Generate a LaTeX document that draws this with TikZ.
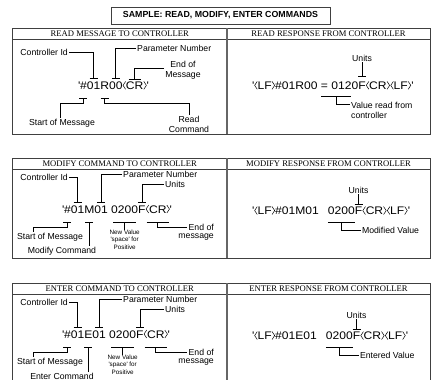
\documentclass[tikz,border=0pt]{standalone}
\usepackage{fontspec}
\usetikzlibrary{calc}
\setmainfont{Liberation Sans}
\newfontfamily\serifhd{Liberation Serif}
\newfontfamily\codefont[FakeStretch=1.1]{Liberation Sans}
\newcommand\lb{\hspace{0.3pt}\tikz[baseline=0pt]\draw[line width=0.5pt] (3.0pt,0pt)--(0.4pt,3.95pt)--(3.0pt,7.9pt);\hspace{0.1pt}}
\newcommand\rb{\hspace{0.1pt}\tikz[baseline=0pt]\draw[line width=0.5pt] (0.4pt,0pt)--(3.0pt,3.95pt)--(0.4pt,7.9pt);\hspace{0.3pt}}
\newcommand\sq{\textquotesingle}
\tikzset{
  frame/.style={draw=black!75, line width=0.9pt},
  divider/.style={draw=black!60, line width=1.4pt},
  head/.style={font=\serifhd\fontsize{8.6}{10}\selectfont, inner sep=0pt},
  lbl/.style={font=\fontsize{8.7}{10}\selectfont, inner sep=1pt},
  smalllbl/.style={font=\fontsize{6.3}{7.2}\selectfont, align=center, inner sep=0pt},
  seg/.style={font=\codefont\fontsize{11}{13}\selectfont, inner sep=0pt, outer sep=0pt, anchor=base west},
  conn/.style={draw, line width=0.6pt},
}
% #1 top, #2 prefix, #3 letter, #4 left head, #5 right head, #6 command label, #7 value label
\newcommand\cmdbox[7]{%
\begin{scope}[shift={(0,#1)}]
  \draw[frame] (12.7,0) rectangle (430,100);
  \draw[frame] (12.7,11) -- (430,11);
  \draw[divider] (227,0) -- (227,100);
  \node[head] (#2hl) at (119.8,5.5) {#4};
  \node[head] (#2hr) at (328.5,5.5) {#5};
  % left code
  \node[seg] (#2a0) at (62,55) {\sq};
  \node[seg] (#2a1) at (#2a0.base east) {\#};
  \node[seg] (#2a2) at (#2a1.base east) {01};
  \node[seg] (#2a3) at (#2a2.base east) {#3};
  \node[seg] (#2a4) at (#2a3.base east) {01};
  \node[seg] (#2a5) at ([xshift=3.4pt]#2a4.base east) {0200};
  \node[seg] (#2a6) at (#2a5.base east) {F};
  \node[seg] (#2a7) at (#2a6.base east) {\lb CR\rb};
  \node[seg] (#2a8) at (#2a7.base east) {\sq};
  % controller id
  \node[lbl, anchor=east] (#2lid) at (69,19.5) {Controller Id};
  \coordinate (#2tid) at (#2a2.north |- 0,44);
  \draw[conn] (#2lid.east) -- (#2tid |- #2lid.east) -- (#2tid);
  \draw[conn] ([xshift=-4pt]#2tid) -- ([xshift=4pt]#2tid);
  % parameter number
  \node[lbl, anchor=west] (#2lpn) at (122,16) {Parameter Number};
  \coordinate (#2tpn) at (#2a4.north |- 0,44);
  \draw[conn] (#2lpn.west) -- (#2tpn |- #2lpn.west) -- (#2tpn);
  \draw[conn] ([xshift=-4pt]#2tpn) -- ([xshift=4pt]#2tpn);
  % units
  \node[lbl, anchor=west] (#2lu) at (164,26) {Units};
  \coordinate (#2tu) at (#2a6.north |- 0,44);
  \draw[conn] (#2lu.west) -- (#2tu |- #2lu.west) -- (#2tu);
  \draw[conn] ([xshift=-4pt]#2tu) -- ([xshift=4pt]#2tu);
  % start of message
  \node[lbl] (#2lsm) at (50,79) {Start of Message};
  \coordinate (#2bsm) at (#2a1.south |- 0,64);
  \draw[conn] ([xshift=-4pt]#2bsm) -- ([xshift=4pt]#2bsm);
  \draw[conn] (#2bsm) -- (#2bsm |- 0,69) -- (33,69) -- (33,0 |- #2lsm.north);
  % command
  \node[lbl] (#2lc) at (62,93) {#6 Command};
  \coordinate (#2bc) at (#2a3.south |- 0,64);
  \draw[conn] ([xshift=-4pt]#2bc) -- ([xshift=4pt]#2bc);
  \draw[conn] (#2bc) -- (#2bc |- #2lc.north);
  % new value
  \coordinate (#2bnv) at (#2a5.south |- 0,64);
  \node[smalllbl, anchor=north] (#2lnv) at (#2a5.south |- 0,72) {New Value\\\sq space\sq{} for\\Positive};
  \draw[conn] ([xshift=2pt]#2a5.south west |- #2bnv) -- ([xshift=-2pt]#2a5.south east |- #2bnv);
  \draw[conn] (#2bnv) -- (#2lnv.north);
  % end of message
  \node[lbl, anchor=east] (#2leo) at (215,69) {End of};
  \node[lbl, anchor=east] (#2lmsg) at (215,79) {message};
  \coordinate (#2beo) at (#2a7.south |- 0,64);
  \draw[conn] ([xshift=1pt]#2a7.south west |- #2beo) -- ([xshift=-1pt]#2a7.south east |- #2beo);
  \draw[conn] (#2beo) -- (#2beo |- 0,69) -- (#2leo.west);
  % right code
  \node[seg] (#2b0) at (252,56.5) {\sq\lb LF\rb\#01#301};
  \node[seg] (#2b1) at ([xshift=9pt]#2b0.base east) {0200};
  \node[seg] (#2b2) at (#2b1.base east) {F};
  \node[seg] (#2b3) at (#2b2.base east) {\lb CR\rb\lb LF\rb\sq};
  \node[lbl] (#2lru) at (#2b2.north |- 0,32) {Units};
  \coordinate (#2tru) at (#2b2.north |- 0,46);
  \draw[conn] (#2lru.south) -- (#2tru);
  \draw[conn] ([xshift=-4pt]#2tru) -- ([xshift=4pt]#2tru);
  \coordinate (#2bv) at (#2b1.south |- 0,64.5);
  \node[lbl, anchor=west] (#2lv) at ([xshift=6pt]#2b1.east |- 0,72) {#7 Value};
  \draw[conn] (#2b1.south west |- #2bv) -- (#2b1.south east |- #2bv);
  \draw[conn] (#2bv) -- (#2bv |- 0,72) -- (#2lv.west);
\end{scope}}
\begin{document}
\begin{tikzpicture}[x=1pt, y=-1pt]
\useasboundingbox (0,0) rectangle (432,380);
\clip (0,0) rectangle (432,380);
\fill[white] (0,0) rectangle (432,380);
% title
\draw[frame] (111,7) rectangle (330,24);
\node[font=\bfseries\fontsize{8.8}{10}\selectfont, inner sep=0pt] (title) at (220.5,15.5) {SAMPLE: READ, MODIFY, ENTER COMMANDS};
% ---------- box 1
\draw[frame] (12.7,28) rectangle (430,134);
\draw[frame] (12.7,39) -- (430,39);
\draw[divider] (227,28) -- (227,134);
\node[head] (h1l) at (119.8,33.5) {READ MESSAGE TO CONTROLLER};
\node[head] (h1r) at (328.5,33.5) {READ RESPONSE FROM CONTROLLER};
\node[seg] (r0) at (78,89.3) {\sq};
\node[seg] (r1) at (r0.base east) {\#};
\node[seg] (r2) at (r1.base east) {01};
\node[seg] (r3) at (r2.base east) {R};
\node[seg] (r4) at (r3.base east) {00};
\node[seg] (r5) at (r4.base east) {\lb CR\rb};
\node[seg] (r6) at (r5.base east) {\sq};
\node[lbl, anchor=east] (l1id) at (69,52) {Controller Id};
\coordinate (t1id) at (r2.north |- 0,78.5);
\draw[conn] (l1id.east) -- (t1id |- l1id.east) -- (t1id);
\draw[conn] ([xshift=-4pt]t1id) -- ([xshift=4pt]t1id);
\node[lbl, anchor=west] (l1pn) at (136,48) {Parameter Number};
\coordinate (t1pn) at (r4.north |- 0,78.5);
\draw[conn] (l1pn.west) -- (t1pn |- l1pn.west) -- (t1pn);
\draw[conn] ([xshift=-4pt]t1pn) -- ([xshift=4pt]t1pn);
\node[lbl, align=center] (l1em) at (183,70) {End of\\Message};
\coordinate (t1cr) at (r5.north |- 0,79);
\draw[conn] (l1em.west |- 0,68) -- (t1cr |- 0,68) -- (t1cr);
\draw[conn] ([xshift=-6pt]t1cr) -- ([xshift=6pt]t1cr);
\node[lbl] (l1sm) at (62,123) {Start of Message};
\coordinate (b1sm) at (r1.south |- 0,98);
\draw[conn] ([xshift=-4pt]b1sm) -- ([xshift=4pt]b1sm);
\draw[conn] (b1sm) -- (b1sm |- 0,103) -- (60,103) -- (60,0 |- l1sm.north);
\node[lbl, align=center] (l1rc) at (189,124) {Read\\Command};
\coordinate (b1rc) at (r3.south |- 0,98);
\draw[conn] ([xshift=-4pt]b1rc) -- ([xshift=4pt]b1rc);
\draw[conn] (b1rc) -- (b1rc |- 0,103) -- (189,103) -- (l1rc.north);
% right
\node[seg] (q0) at (252,89.3) {\sq\lb LF\rb\#01R00 =};
\node[seg] (q1) at ([xshift=3.4pt]q0.base east) {0120};
\node[seg] (q2) at (q1.base east) {F};
\node[seg] (q3) at (q2.base east) {\lb CR\rb\lb LF\rb\sq};
\node[lbl] (l1u) at (q2.north |- 0,58) {Units};
\coordinate (t1u) at (q2.north |- 0,76.5);
\draw[conn] (l1u.south) -- (t1u);
\draw[conn] ([xshift=-4pt]t1u) -- ([xshift=4pt]t1u);
\coordinate (b1vl) at ([xshift=-10pt]q1.south west |- 0,96);
\coordinate (b1vr) at ([xshift=-7pt]q1.south east |- 0,96);
\coordinate (b1v) at ($(b1vl)!0.5!(b1vr)$);
\node[lbl, anchor=west, align=left] (l1v) at (350,110) {Value read from\\controller};
\draw[conn] (b1vl) -- (b1vr);
\draw[conn] (b1v) -- (b1v |- 0,104.5) -- (l1v.west |- 0,104.5);
% ---------- boxes 2 and 3
\cmdbox{158}{m}{M}{MODIFY COMMAND TO CONTROLLER}{MODIFY RESPONSE FROM CONTROLLER}{Modify}{Modified}
\cmdbox{283}{e}{E}{ENTER COMMAND TO CONTROLLER}{ENTER RESPONSE FROM CONTROLLER}{Enter}{Entered}
\end{tikzpicture}
\end{document}
